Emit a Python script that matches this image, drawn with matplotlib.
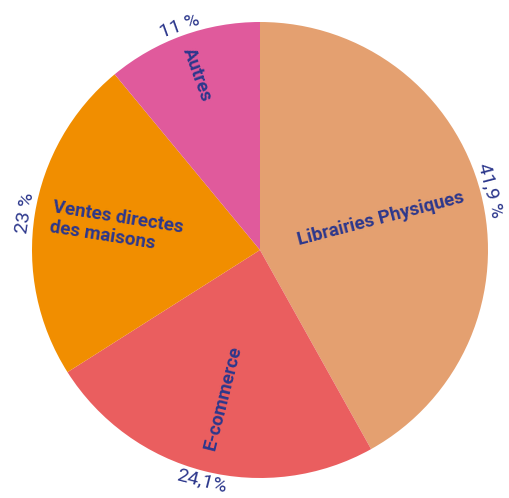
import matplotlib
matplotlib.use("Agg")
import matplotlib.pyplot as plt
import numpy as np

categories = ["Librairies Physiques", "E-commerce", "Ventes directes\ndes maisons", "Autres"]
values = [41.9, 24.1, 23.0, 11.0]
pct_labels = ["41,9 %", "24,1%", "23 %", "11 %"]
colors = ["#E4A070", "#EA5E5F", "#F18E00", "#E05A9C"]
name_radius = [125, 152, 145, 186]
text_color = "#2C378C"

W, H = 510, 498
fig = plt.figure(figsize=(W / 100, H / 100), dpi=100)
ax = fig.add_axes([0, 0, 1, 1])

cx, cy, R = 260, H - 250, 228
wedges, _ = ax.pie(values, colors=colors, startangle=90, counterclock=False,
                   center=(cx, cy), radius=R, frame=True)
ax.set_xlim(0, W)
ax.set_ylim(0, H)
ax.set_aspect("equal")
ax.axis("off")


def upright(a):
    a = ((a + 180) % 360) - 180
    if a > 90:
        a -= 180
    elif a < -90:
        a += 180
    return a


for w, name, pct, nr in zip(wedges, categories, pct_labels, name_radius):
    mid = (w.theta1 + w.theta2) / 2.0
    m = np.deg2rad(mid)
    ax.text(cx + nr * np.cos(m), cy + nr * np.sin(m), name, rotation=upright(mid),
            rotation_mode="anchor", ha="center", va="center", multialignment="left",
            fontsize=13.5, fontweight="bold", color=text_color, family="Roboto",
            linespacing=1.2)
    pr = 238
    ax.text(cx + pr * np.cos(m), cy + pr * np.sin(m), pct, rotation=upright(mid - 90),
            rotation_mode="anchor", ha="center", va="center",
            fontsize=14, color=text_color, family="Roboto")

fig.savefig("out.png", dpi=100, facecolor="white")
